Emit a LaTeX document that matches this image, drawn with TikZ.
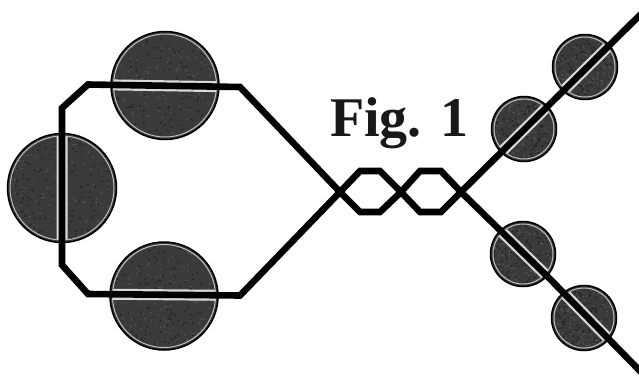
\documentclass[tikz,border=0pt]{standalone}
\usepackage{fontspec}
\setmainfont{Liberation Serif}
\definecolor{discfill}{HTML}{3A3A3A}
\definecolor{discspeck}{HTML}{555555}
\definecolor{discdark}{HTML}{262626}
\tikzset{
  disc/.style={circle,draw=black,line width=1.5pt,fill=discfill,inner sep=0pt,outer sep=0pt},
  ringline/.style={draw=white!75!black,line width=1pt},
  wire/.style={draw=black,line width=6.6pt,line join=miter,line cap=butt},
  halo/.style={draw=white!85!black,line width=11pt,line join=miter,line cap=butt},
  figlabel/.style={font=\bfseries\fontsize{56}{56}\selectfont,inner sep=0pt,anchor=base west,text=black!90}
}
\newcommand{\wireA}{(A0) -- (A1) -- (A2) -- (A3) -- (A4) -- (A5) -- (A6) -- (A7) -- (A8) -- (A9) -- (A10) -- (A11) -- (A12)}
\newcommand{\wireB}{(A0) -- (B1) -- (B2) -- (B3) -- (B4) -- (B5) -- (B6) -- (B7) -- (B8) -- (B9) -- (B10) -- (B11) -- (B12)}
\begin{document}
\begin{tikzpicture}[x=1pt,y=-1pt]
\useasboundingbox (0,0) rectangle (639,381);
\fill[white] (0,0) rectangle (639,381);
\coordinate (A0) at (62,188);
\coordinate (A1) at (62,108);
\coordinate (A2) at (88,84.5);
\coordinate (A3) at (240,87);
\coordinate (A4) at (340,192);
\coordinate (A5) at (360,212);
\coordinate (A6) at (380,212);
\coordinate (A7) at (401,192);
\coordinate (A8) at (420,171);
\coordinate (A9) at (441,171);
\coordinate (A10) at (461,192);
\coordinate (A11) at (550,279);
\coordinate (A12) at (642,373);
\coordinate (B1) at (62,265);
\coordinate (B2) at (88,294);
\coordinate (B3) at (240,295.5);
\coordinate (B4) at (340,192);
\coordinate (B5) at (360,171);
\coordinate (B6) at (380,171);
\coordinate (B7) at (401,192);
\coordinate (B8) at (420,212);
\coordinate (B9) at (441,212);
\coordinate (B10) at (461,192);
\coordinate (B11) at (550,104);
\coordinate (B12) at (642,13);
\pgfmathsetseed{4242}
\foreach \n/\x/\y/\r in {c1/165/85.5/54,c2/62/188/54.5,c3/164/296/54,c4/585/67/32.5,c5/524/129/32.5,c6/523/254/32.5,c7/584/318/32.5}{
  \node[disc,minimum size=2*\r pt] (\n) at (\x,\y) {};
  \begin{scope}
    \clip (\x,\y) circle (\r-2.5);
    \foreach \i in {1,...,160}{
      \fill[discspeck] (\x-\r+2*\r*rnd,\y-\r+2*\r*rnd) circle (0.9);
      \fill[discdark] (\x-\r+2*\r*rnd,\y-\r+2*\r*rnd) circle (1.1);
    }
    \draw[halo] \wireA;
    \draw[halo] \wireB;
  \end{scope}
  \draw[ringline] (\x,\y) circle (\r-2.5);
}
\draw[wire] \wireA;
\draw[wire] \wireB;
\node[figlabel] (title) at (330,136) {Fig. 1};
\end{tikzpicture}
\end{document}
